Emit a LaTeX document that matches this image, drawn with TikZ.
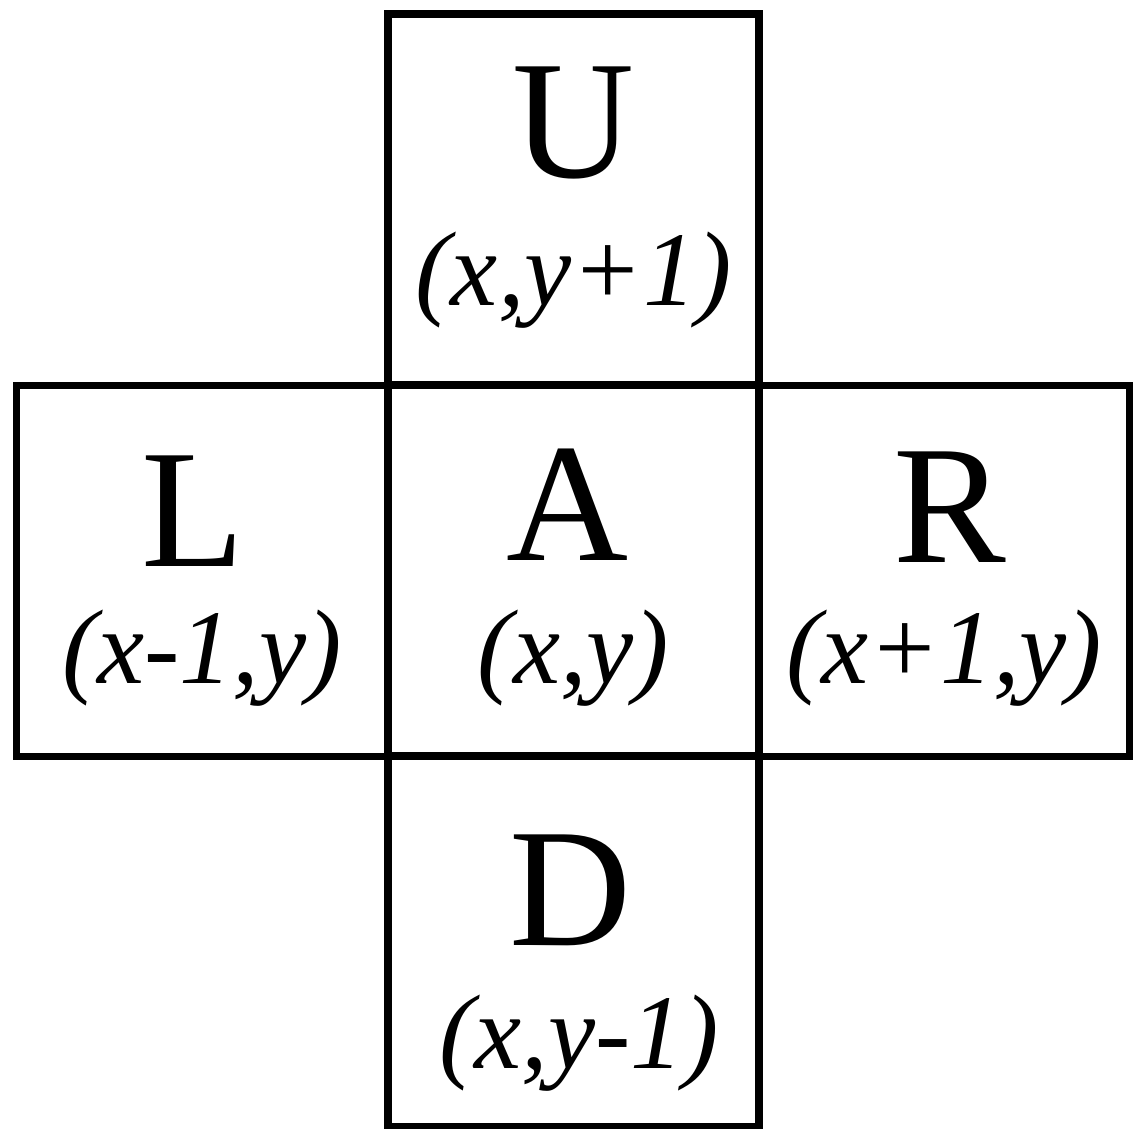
\documentclass[tikz,border=0pt]{standalone}
\usepackage{fontspec}
\setmainfont{Liberation Serif}
\begin{document}
\begin{tikzpicture}[x=1pt,y=-1pt,
  cell/.style={draw=black,line width=7.5pt,minimum width=371pt,minimum height=371pt,inner sep=0pt,outer sep=0pt},
  big/.style={anchor=base,inner sep=0pt,font=\fontsize{169}{169}\selectfont},
  coordtxt/.style={anchor=base,inner sep=0pt,font=\fontsize{106}{106}\selectfont\itshape}]
\useasboundingbox[fill=white] (0,0) rectangle (1134,1128);
\node[cell] (cu) at (573.5,199.5) {};
\node[cell] (cl) at (202,571) {};
\node[cell] (ca) at (573.5,571) {};
\node[cell] (cr) at (944,571) {};
\node[cell] (cd) at (573.5,941.5) {};
\node[big] (tu) at (573.5,177) {U};
\node[coordtxt] (ku) at (573.5,305) {(x,y+1)};
\node[big] (tl) at (193,566) {L};
\node[coordtxt] (kl) at (202,683) {(x-1,y)};
\node[big] (ta) at (568,560) {A};
\node[coordtxt] (ka) at (573.5,683) {(x,y)};
\node[big] (tr) at (950,562) {R};
\node[coordtxt] (kr) at (944,683) {(x+1,y)};
\node[big] (td) at (571,945) {D};
\node[coordtxt] (kd) at (579,1068) {(x,y-1)};
\end{tikzpicture}
\end{document}
